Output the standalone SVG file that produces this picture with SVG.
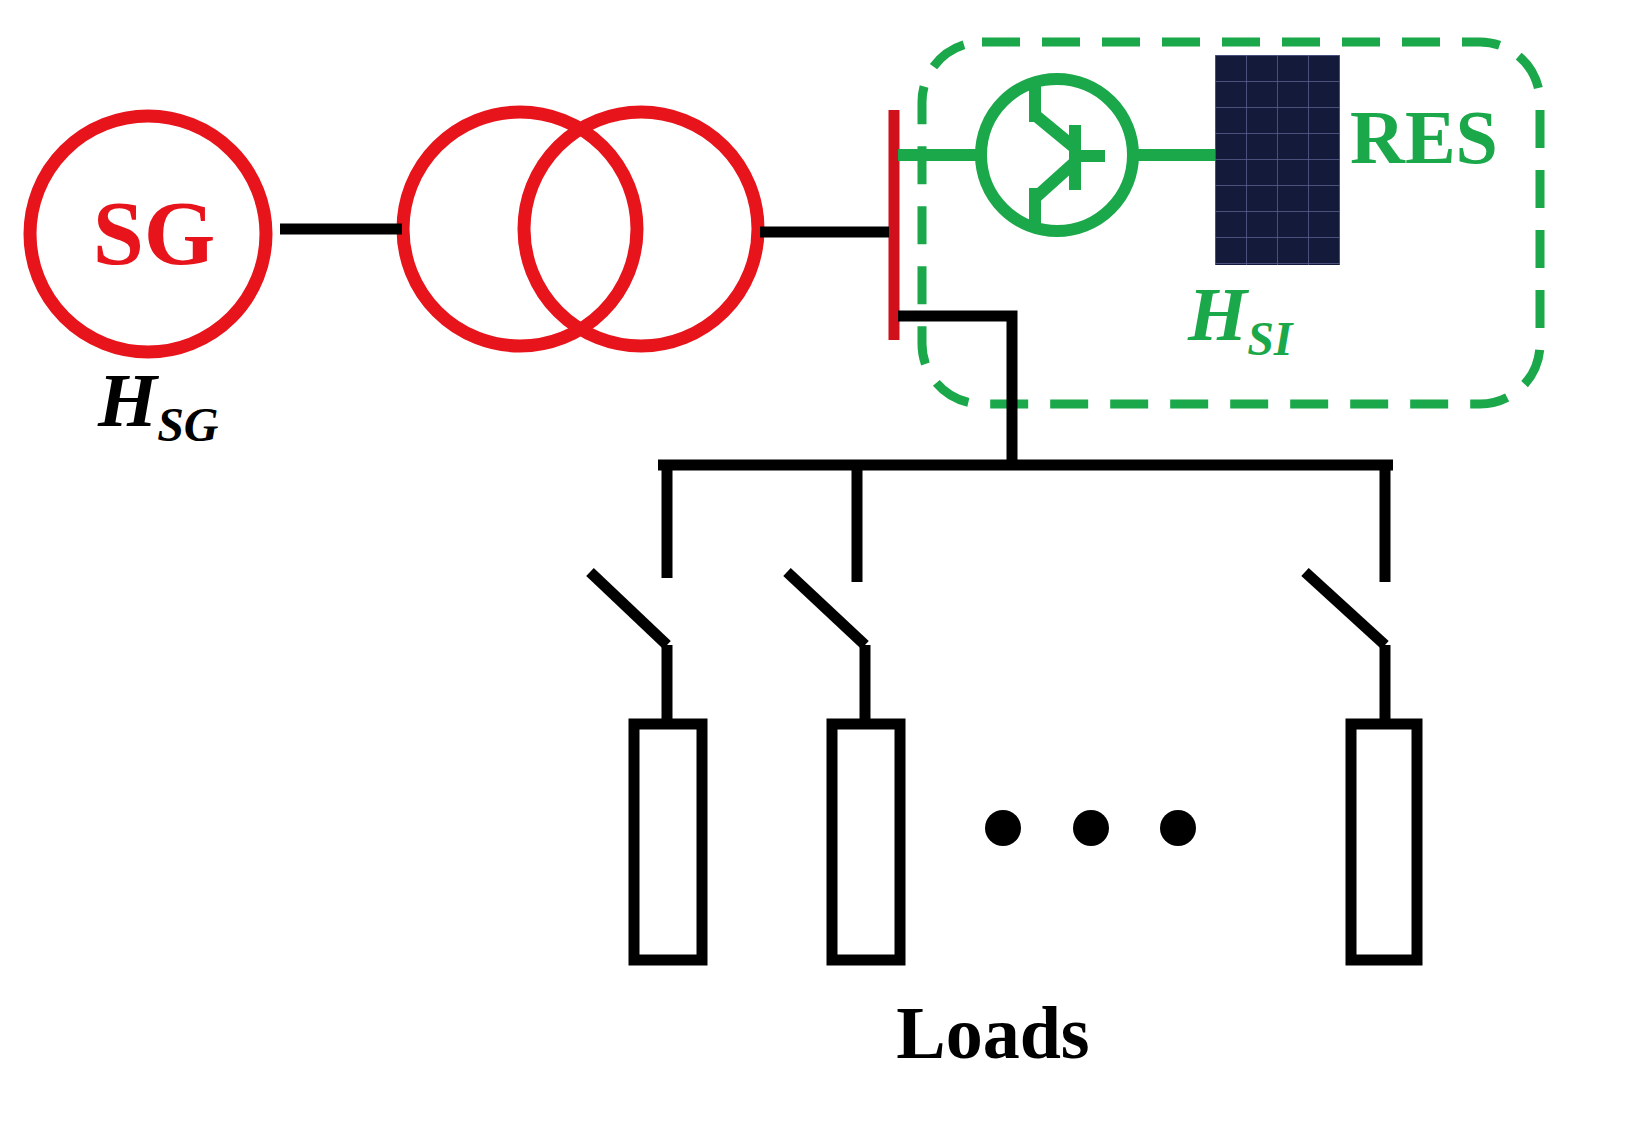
<svg xmlns="http://www.w3.org/2000/svg" width="1650" height="1141" viewBox="0 0 1650 1141">
<style>
.r{fill:none;stroke:#e8141c;stroke-width:13}
.k{fill:none;stroke:#000;stroke-width:11}
.g{fill:none;stroke:#1aa84a;stroke-width:12}
.tb{font-family:"Liberation Serif",serif;font-weight:bold}
</style>
<defs>
<pattern id="pv" width="31" height="26" patternUnits="userSpaceOnUse" x="1215" y="55">
<rect width="31" height="26" fill="#141a3a"/>
<path d="M0 0H31M0 0V26" stroke="#5a6290" stroke-width="1.5"/>
</pattern>
</defs>
<rect width="1650" height="1141" fill="#fff"/>
<g id="res-box"><rect x="922" y="42" width="618" height="362" rx="60" fill="none" stroke="#1aa84a" stroke-width="9" stroke-dasharray="38,22"/></g>
<g id="sg"><circle cx="148" cy="234" r="118" class="r"/><text x="154" y="264" class="tb" font-size="92" fill="#e8141c" text-anchor="middle">SG</text>
<text x="98" y="426" class="tb" font-style="italic" font-size="76" fill="#000">H<tspan font-size="48" dy="15">SG</tspan></text></g>
<g id="transformer"><circle cx="520" cy="229" r="117" class="r"/><circle cx="641" cy="229" r="117" class="r"/></g>
<g id="bus"><line x1="894" y1="110" x2="894" y2="340" stroke="#d0101a" stroke-width="11"/></g>
<g id="inverter" class="g">
<circle cx="1057" cy="155" r="76"/>
<line x1="1035" y1="84" x2="1035" y2="122"/><line x1="1035" y1="188" x2="1035" y2="226"/>
<line x1="1035" y1="115" x2="1075" y2="148"/><line x1="1075" y1="162" x2="1035" y2="198"/>
<line x1="1075" y1="125" x2="1075" y2="190"/><line x1="1075" y1="156" x2="1105" y2="156"/>
</g>
<g id="pv-panel"><rect x="1215" y="55" width="125" height="210" fill="url(#pv)"/>
<text x="1350" y="163" class="tb" font-size="76" fill="#1aa84a">RES</text>
<text x="1188" y="340" class="tb" font-style="italic" font-size="76" fill="#1aa84a">H<tspan font-size="48" dy="15">SI</tspan></text></g>
<g id="loads" class="k">
<rect x="634" y="724" width="68" height="236"/><rect x="832" y="724" width="68" height="236"/><rect x="1351" y="724" width="66" height="236"/>
</g>
<g id="switches" class="k">
<line x1="590" y1="572" x2="667" y2="645"/><line x1="787" y1="572" x2="865" y2="645"/><line x1="1305" y1="572" x2="1385" y2="645"/>
</g>
<g id="dots" fill="#000"><circle cx="1003" cy="828" r="18"/><circle cx="1091" cy="828" r="18"/><circle cx="1178" cy="828" r="18"/></g>
<text x="993" y="1058" class="tb" font-size="74" text-anchor="middle" fill="#000">Loads</text>
<g id="connectors">
<line x1="280" y1="229" x2="402" y2="229" class="k" stroke-width="8"/>
<line x1="760" y1="232" x2="889" y2="232" class="k" stroke-width="7"/>
<line x1="898" y1="155" x2="981" y2="155" class="g"/>
<line x1="1133" y1="155" x2="1215" y2="155" class="g"/>
<polyline points="898,316 1012,316 1012,465" class="k" stroke-width="12"/>
<line x1="658" y1="465" x2="1393" y2="465" class="k" stroke-width="12"/>
<line x1="667" y1="465" x2="667" y2="578" class="k"/>
<line x1="857" y1="465" x2="857" y2="582" class="k"/>
<line x1="1385" y1="465" x2="1385" y2="582" class="k"/>
<line x1="667" y1="645" x2="667" y2="724" class="k"/>
<line x1="865" y1="645" x2="865" y2="724" class="k"/>
<line x1="1385" y1="645" x2="1385" y2="724" class="k"/>
</g>
</svg>
